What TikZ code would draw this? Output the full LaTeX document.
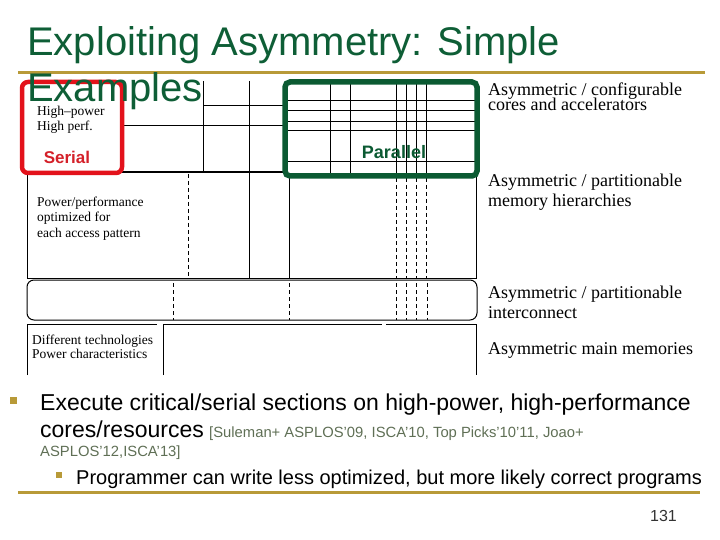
\documentclass[tikz,border=0pt]{standalone}
\usepackage{fontspec}
\setmainfont{Liberation Serif}
\setsansfont{Liberation Sans}
\definecolor{titlegreen}{HTML}{0E5E36}
\definecolor{boxgreen}{HTML}{0B5A32}
\definecolor{boxred}{HTML}{E3121B}
\definecolor{serialred}{HTML}{D42029}
\definecolor{gold}{HTML}{B89A38}
\definecolor{citegray}{HTML}{5F6F55}
\definecolor{pagegray}{HTML}{333333}
\begin{document}
\begin{tikzpicture}[x=1pt,y=-1pt,
  gridline/.style={line width=1pt,black},
  thickline/.style={line width=2pt,black},
  dashline/.style={line width=1pt,black,dash pattern=on 4pt off 3pt},
  goldline/.style={line width=3pt,gold},
  titletext/.style={font=\sffamily\fontsize{40}{40}\selectfont,text=titlegreen,anchor=base west,inner sep=0},
  labeltext/.style={font=\rmfamily\fontsize{18}{18}\selectfont,anchor=base west,inner sep=0},
  smalltext/.style={font=\rmfamily\fontsize{13.5}{13.5}\selectfont,anchor=base west,inner sep=0},
  bodytext/.style={font=\sffamily\fontsize{23}{23}\selectfont,anchor=base west,inner sep=0},
  subtext/.style={font=\sffamily\fontsize{20}{20}\selectfont,anchor=base west,inner sep=0},
  citetext/.style={font=\sffamily\fontsize{14.8}{14.8}\selectfont,text=citegray,anchor=base west,inner sep=0},
  bulletsq/.style={fill=gold,inner sep=0,minimum size=#1},
]
\useasboundingbox (0,0) rectangle (720,540);

% gold rules
\draw[goldline] (18,73) -- (705,73);
\draw[goldline] (18,492) -- (700,492);

% ---- cores region ----
\draw[gridline] (203,81) -- (203,172);
\draw[gridline] (249,81) -- (249,278);
\draw[gridline] (203,106) -- (285,106);
\draw[gridline] (122,126) -- (285,126);
\draw[thickline] (122,172) -- (285,172);
% grid inside parallel box
\foreach \xx in {330,350,396,406,416,426} \draw[gridline] (\xx,82) -- (\xx,176);
\foreach \yy in {101,111,122,131,162} \draw[gridline] (285,\yy) -- (477,\yy);

% ---- memory hierarchy region ----
\draw[gridline] (27,172) -- (27,278) -- (476,278) -- (476,176);
\draw[dashline] (188,174) -- (188,278);
\draw[gridline] (289,176) -- (289,278);
\foreach \xx in {396,406,416,426} \draw[dashline] (\xx,178) -- (\xx,278);

% ---- interconnect ----
\draw[gridline,rounded corners=7pt] (27,280) rectangle (477,320);
\foreach \xx in {173,289,396,406,416,427} \draw[dashline] (\xx,283) -- (\xx,320);

% ---- main memories ----
\draw[gridline] (27,375) -- (27,324) -- (157,324);
\draw[gridline] (163,375) -- (163,324) -- (382,324);
\draw[gridline] (386,324) -- (476,324) -- (476,375);

% ---- highlight boxes ----
\draw[line width=4.5pt,boxred,rounded corners=6pt] (22,82) rectangle (122,173);
\draw[line width=5.5pt,boxgreen,rounded corners=5pt] (285,82) rectangle (477,176);

% ---- labels in the diagram ----
\node[smalltext] (hp) at (37,116) {High–power};
\node[smalltext] (hperf) at (37,131) {High perf.};
\node[font=\sffamily\bfseries\fontsize{17}{17}\selectfont,text=serialred,anchor=base,inner sep=0] (serial) at (67,164) {Serial};
\node[font=\sffamily\bfseries\fontsize{18}{18}\selectfont,text=boxgreen,anchor=base,inner sep=0] (parallel) at (394,159) {Parallel};
\node[smalltext] (pp1) at (37,207) {Power/performance};
\node[smalltext] (pp2) at (37,222) {optimized for};
\node[smalltext] (pp3) at (37,237) {each access pattern};
\node[smalltext] (dt1) at (32,344) {Different technologies};
\node[smalltext] (dt2) at (32,358) {Power characteristics};

% ---- right-hand labels ----
\node[labeltext] (r1a) at (488,96) {Asymmetric / configurable};
\node[labeltext] (r1b) at (488,111) {cores and accelerators};
\node[labeltext] (r2a) at (488,187) {Asymmetric / partitionable};
\node[labeltext] (r2b) at (488,207) {memory hierarchies};
\node[labeltext] (r3a) at (488,298) {Asymmetric / partitionable};
\node[labeltext] (r3b) at (488,318) {interconnect};
\node[labeltext] (r4) at (488,354) {Asymmetric main memories};

% ---- title ----
\node[titletext] (title1) at (27,56) {Exploiting Asymmetry: Simple};
\node[titletext] (title2) at (27,102) {Examples};

% ---- bullets ----
\node[bulletsq=7pt] (b1) at (13.5,400.5) {};
\node[bodytext] (l1) at (40,410) {Execute critical/serial sections on high-power, high-performance};
\node[bodytext] (l2) at (40,437) {cores/resources};
\node[citetext] (c1) at ([xshift=5pt]l2.base east) {[Suleman+ ASPLOS'09, ISCA'10, Top Picks'10'11, Joao+};
\node[citetext] (c2) at (40,456) {ASPLOS'12,ISCA'13]};
\node[bulletsq=6pt] (b2) at (59,475) {};
\node[subtext] (l3) at (76,484) {Programmer can write less optimized, but more likely correct programs};

% ---- page number ----
\node[font=\sffamily\fontsize{16}{16}\selectfont,text=pagegray,anchor=base east,inner sep=0] (page) at (677,521) {131};
\end{tikzpicture}
\end{document}
